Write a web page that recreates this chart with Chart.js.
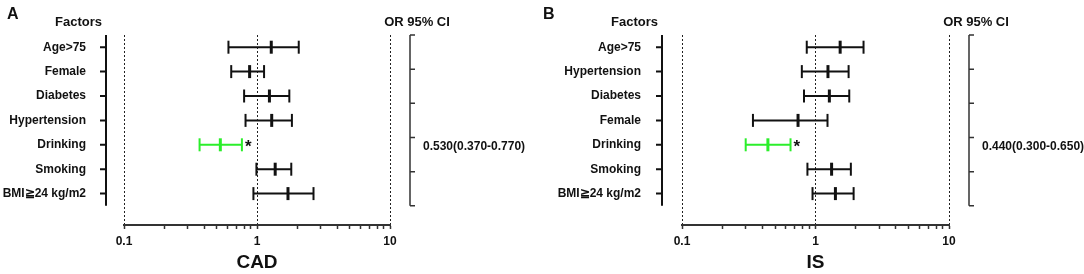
<!DOCTYPE html>
<html>
<head>
<meta charset="utf-8">
<script src="https://cdn.jsdelivr.net/npm/chart.js@4/dist/chart.umd.min.js"></script>
<style>
  body { margin: 0; background: #fff; }
  canvas { position: absolute; top: 0; }
</style>
</head>
<body>
<canvas id="cad" width="542" height="274" style="left:0px"></canvas>
<canvas id="is" width="542" height="274" style="left:542px"></canvas>
<script>
// CAD panel
const cadFactors = ["Age>75", "Female", "Diabetes", "Hypertension", "Drinking", "Smoking", "BMI\u226724 kg/m2"];
const cadOR = [1.28, 0.88, 1.24, 1.29, 0.53, 1.37, 1.71];
const cadLow = [0.61, 0.64, 0.80, 0.82, 0.37, 0.99, 0.94];
const cadHigh = [2.06, 1.13, 1.75, 1.83, 0.77, 1.81, 2.66];

// IS panel
const isFactors = ["Age>75", "Hypertension", "Diabetes", "Female", "Drinking", "Smoking", "BMI\u226724 kg/m2"];
const isOR = [1.53, 1.24, 1.27, 0.74, 0.44, 1.32, 1.41];
const isLow = [0.86, 0.79, 0.82, 0.34, 0.30, 0.87, 0.95];
const isHigh = [2.29, 1.77, 1.79, 1.23, 0.65, 1.84, 1.93];

const xTickLabels = [0.1, 1, 10];
const FONT = '"Liberation Sans", Arial, sans-serif';
const GREEN = '#2BEE2B';
const INK = '#111';

function makePanel(id, cfg) {
    const ctx = document.getElementById(id).getContext('2d');
    const n = cfg.factors.length;
    const colors = cfg.factors.map((_, i) => i === cfg.sig ? GREEN : INK);

    const lines = cfg.factors.map((f, i) => ({
        showLine: true,
        data: [{x: cfg.low[i], y: i}, {x: cfg.high[i], y: i}],
        borderColor: colors[i],
        borderWidth: 2,
        pointRadius: 0
    }));
    const caps = (vals, w) => ({
        data: vals.map((v, i) => ({x: v, y: i})),
        pointStyle: 'line',
        rotation: 90,
        pointRadius: 6.5,
        pointBorderWidth: w,
        pointBorderColor: colors,
        pointBackgroundColor: colors
    });

    const extras = {
        id: 'extras',
        afterDraw(chart) {
            const c = chart.ctx;
            const a = chart.chartArea;
            const y = chart.scales.y;
            const top = y.getPixelForValue(-0.5);
            const bot = y.getPixelForValue(n - 0.5);
            c.save();
            c.strokeStyle = INK;
            c.lineWidth = 2;
            // offset left axis
            const ax = a.left - cfg.axisGap;
            c.beginPath();
            c.moveTo(ax, top); c.lineTo(ax, bot);
            for (let i = 0; i < n; i++) {
                const py = y.getPixelForValue(i);
                c.moveTo(ax - 6, py); c.lineTo(ax, py);
            }
            c.stroke();
            // right bracket
            const bx = a.right + 20;
            c.lineWidth = 1.5;
            c.strokeStyle = '#333';
            c.beginPath();
            c.moveTo(bx, top); c.lineTo(bx, bot);
            for (let k = 0; k <= 5; k++) {
                const py = top + (bot - top) * k / 5;
                c.moveTo(bx, py); c.lineTo(bx + 5, py);
            }
            c.stroke();
            // texts
            c.fillStyle = INK;
            c.textBaseline = 'middle';
            c.font = 'bold 16px ' + FONT;
            c.textAlign = 'left';
            c.fillText(cfg.letter, cfg.letterX, 15);
            c.font = 'bold 13px ' + FONT;
            c.textAlign = 'right';
            c.fillText('Factors', ax - 4, 22);
            c.textAlign = 'center';
            c.fillText('OR 95% CI', bx + 7, 22);
            c.textAlign = 'left';
            c.font = 'bold 12px ' + FONT;
            const s = cfg.sig;
            c.fillText(cfg.or[s].toFixed(3) + '(' + cfg.low[s].toFixed(3) + '-' + cfg.high[s].toFixed(3) + ')',
                bx + 13, y.getPixelForValue(s) + 2);
            c.font = 'bold 17px ' + FONT;
            c.fillText('*', chart.scales.x.getPixelForValue(cfg.high[s]) + 3, y.getPixelForValue(s) + 3);
            c.restore();
        }
    };

    return new Chart(ctx, {
        type: 'scatter',
        data: {
            datasets: [...lines, caps(cfg.low, 2), caps(cfg.high, 2), caps(cfg.or, 3)]
        },
        options: {
            responsive: false,
            animation: false,
            events: [],
            layout: {
                padding: {left: 0, right: 542 - cfg.right, top: 35, bottom: 0}
            },
            plugins: {
                legend: {display: false},
                tooltip: {enabled: false}
            },
            scales: {
                x: {
                    type: 'logarithmic',
                    min: 0.1,
                    max: 10,
                    afterFit: s => { s.height = 49; },
                    afterBuildTicks: s => {
                        const t = [];
                        [0.1, 1].forEach(d => { for (let m = 1; m < 10; m++) t.push({value: +(d * m).toFixed(2), major: m === 1}); });
                        t.push({value: 10, major: true});
                        s.ticks = t;
                    },
                    grid: {
                        color: c => (c.tick && xTickLabels.includes(c.tick.value)) ? '#222' : 'rgba(0,0,0,0)',
                        lineWidth: 1,
                        tickColor: '#333',
                        tickLength: 4,
                        tickWidth: 1.5
                    },
                    border: {display: true, color: '#333', width: 2, dash: [2, 2]},
                    ticks: {
                        autoSkip: false,
                        maxRotation: 0,
                        padding: 5,
                        color: INK,
                        font: {family: FONT, size: 12, weight: 'bold'},
                        callback: v => xTickLabels.includes(v) ? String(v) : ''
                    },
                    title: {
                        display: true,
                        text: cfg.title,
                        color: INK,
                        font: {family: FONT, size: 19, weight: 'bold'},
                        padding: {top: 8, bottom: 0}
                    }
                },
                y: {
                    type: 'linear',
                    reverse: true,
                    min: -0.5,
                    max: -0.5 + 190 / 24.4,
                    afterFit: s => { s.width = cfg.left; },
                    afterBuildTicks: s => { s.ticks = cfg.factors.map((_, i) => ({value: i})); },
                    grid: {
                        display: true,
                        drawOnChartArea: false,
                        drawTicks: true,
                        tickLength: cfg.labelGap - 2,
                        color: 'rgba(0,0,0,0)',
                        tickColor: 'rgba(0,0,0,0)'
                    },
                    border: {display: false},
                    ticks: {
                        padding: 2,
                        color: INK,
                        font: {family: FONT, size: 12, weight: 'bold'},
                        callback: v => cfg.factors[v]
                    }
                }
            }
        },
        plugins: [extras]
    });
}

makePanel('cad', {
    factors: cadFactors, or: cadOR, low: cadLow, high: cadHigh, sig: 4,
    title: 'CAD', letter: 'A', letterX: 7,
    left: 124, right: 390, axisGap: 18, labelGap: 38
});
makePanel('is', {
    factors: isFactors, or: isOR, low: isLow, high: isHigh, sig: 4,
    title: 'IS', letter: 'B', letterX: 1,
    left: 140, right: 407, axisGap: 20, labelGap: 41
});
</script>
</body>
</html>
